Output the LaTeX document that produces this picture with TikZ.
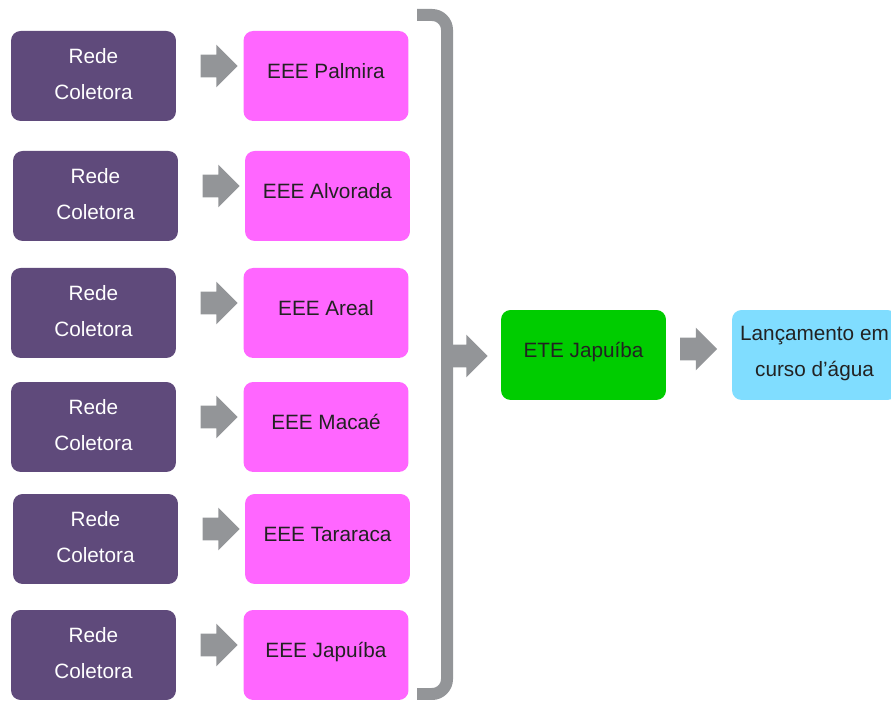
\documentclass[tikz,border=0pt]{standalone}
\usepackage{fontspec}
\setmainfont{Liberation Sans}
\usetikzlibrary{shapes.arrows}
\definecolor{RedePurple}{HTML}{5F4A7B}
\definecolor{EEEPink}{HTML}{FF66FF}
\definecolor{ETEGreen}{HTML}{00CC00}
\definecolor{RioBlue}{HTML}{80DDFF}
\definecolor{FlowGray}{HTML}{939598}
\definecolor{FlowText}{HTML}{222222}
\tikzset{
  box/.style={
    rounded corners=5.5pt,
    minimum width=3.3cm,
    minimum height=1.8cm,
    align=center,
    font=\fontsize{11.8}{20.4}\selectfont,
    inner sep=0pt
  },
  redebox/.style={box,fill=RedePurple,text=white,text depth=2.2pt},
  eeebox/.style={box,fill=EEEPink,text=FlowText,text depth=5.6pt},
  etebox/.style={box,fill=ETEGreen,text=FlowText,text depth=5.6pt},
  riobox/.style={box,fill=RioBlue,text=FlowText,text depth=4pt},
  blockarrow/.style={
    single arrow,
    fill=FlowGray,
    draw=none,
    inner xsep=0pt,
    inner ysep=0.22cm,
    single arrow head extend=0.2cm,
    minimum height=0.74cm
  },
  bracket/.style={draw=FlowGray,line width=0.24cm,rounded corners=0.3cm}
}

\begin{document}
\begin{tikzpicture}[x=0.02cm,y=0.02cm]
  \useasboundingbox (0,0) rectangle (891,702);

  \node[redebox] (rc1) at (93.5,626) {Rede\\Coletora};
  \node[redebox] (rc2) at (95.5,506) {Rede\\Coletora};
  \node[redebox] (rc3) at (93.5,389) {Rede\\Coletora};
  \node[redebox] (rc4) at (93.5,275) {Rede\\Coletora};
  \node[redebox] (rc5) at (95.5,163) {Rede\\Coletora};
  \node[redebox] (rc6) at (93.5,47) {Rede\\Coletora};

  \node[eeebox] (palmira) at (326,626) {EEE Palmira};
  \node[eeebox] (alvorada) at (327.5,506) {EEE Alvorada};
  \node[eeebox] (areal) at (326,389) {EEE Areal};
  \node[eeebox] (macae) at (326,275) {EEE Macaé};
  \node[eeebox] (tararaca) at (327.5,163) {EEE Tararaca};
  \node[eeebox] (japuiba) at (326,47) {EEE Japuíba};

  \node[blockarrow] (ar1) at (213.5,636) {};
  \node[blockarrow] (ar2) at (215.5,516) {};
  \node[blockarrow] (ar3) at (213.5,399) {};
  \node[blockarrow] (ar4) at (213.5,285) {};
  \node[blockarrow] (ar5) at (215.5,173) {};
  \node[blockarrow] (ar6) at (213.5,57) {};

  % bracket collecting all stations
  \draw[bracket] (417,687) -- (447,687) -- (447,8) -- (417,8);
  \node[blockarrow,minimum height=0.7cm] (arm) at (464.5,346) {};

  \node[etebox] (ete) at (583.5,347) {ETE Japuíba};
  \node[blockarrow] (aro) at (693,353) {};
  \node[riobox] (rio) at (814.5,347) {Lançamento em\\curso d’água};
\end{tikzpicture}
\end{document}
